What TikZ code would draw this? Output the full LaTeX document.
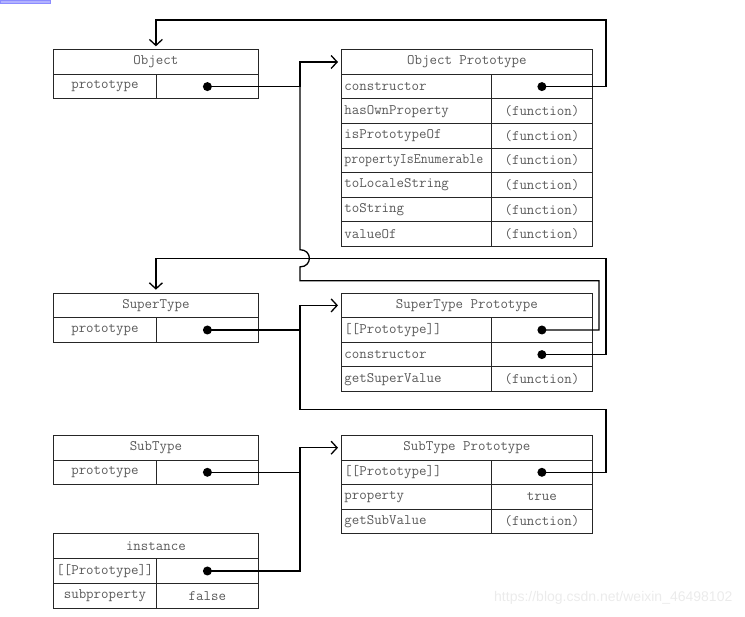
\documentclass[tikz,border=0pt]{standalone}
\usepackage{fontspec}
\usepackage{tikz}
\usetikzlibrary{arrows.meta, calc, positioning}
\newfontfamily\wmfont{Liberation Sans}

\begin{document}
\begin{tikzpicture}[x=1pt, y=-1pt, >=stealth, semithick]
                \tikzset{cell/.style={draw=black!85, line width=0.8pt, anchor=north west, minimum height=24.6pt, inner sep=0pt, font=\ttfamily\fontsize{14.5}{15}\selectfont, text=black!65}};
                \tikzset{lhead/.style={cell, minimum width=205pt}, lkey/.style={cell, minimum width=103pt}, lval/.style={cell, minimum width=102pt}};
                \tikzset{rhead/.style={cell, minimum width=251pt}, rkey/.style={cell, minimum width=150pt, text width=144pt, align=left}, rval/.style={cell, minimum width=101pt}};
                \tikzset{point/.style={circle, fill, inner sep=0pt, minimum size=9pt}, link/.style={line width=1.3pt}, tip/.style={-{Straight Barb[length=6pt, width=13pt]}, shorten >=3pt}};
                \useasboundingbox (0, 0) rectangle (745, 617);
                \fill[blue!30, draw=blue!45] (0, 0) rectangle (50, 3);
                % left column
                \node[lhead] (obj) at (53, 49.3) {Object};
                \node[lkey] (objk) at (53, 73.9) {prototype};
                \node[lval] (objv) at (156, 73.9) {};
                \node[lhead] (st) at (53, 292.7) {SuperType};
                \node[lkey] (stk) at (53, 317.3) {prototype};
                \node[lval] (stv) at (156, 317.3) {};
                \node[lhead] (sb) at (53, 435) {SubType};
                \node[lkey] (sbk) at (53, 459.6) {prototype};
                \node[lval] (sbv) at (156, 459.6) {};
                \node[lhead] (ins) at (53, 533.3) {instance};
                \node[lkey] (insk1) at (53, 558.3) {[[Prototype]]};
                \node[lval] (insv1) at (156, 558.3) {};
                \node[lkey] (insk2) at (53, 583.5) {subproperty};
                \node[lval] (insv2) at (156, 583.5) {false};
                % right column
                \node[rhead] (op) at (341, 49.3) {Object Prototype};
                \node[rkey] (opk1) at (341, 73.9) {constructor};
                \node[rval] (opv1) at (491, 73.9) {};
                \foreach \name [count=\i from 2] in {hasOwnProperty, isPrototypeOf, {\scalebox{0.93}[1]{propertyIsEnumerable}}, toLocaleString, toString, valueOf} {
                    \node[rkey] (opk\i) at (341, 49.3 + \i*24.6) {\name};
                    \node[rval] (opv\i) at (491, 49.3 + \i*24.6) {(function)};
                }
                \node[rhead] (stp) at (341, 292.7) {SuperType Prototype};
                \node[rkey] (stpk1) at (341, 317.3) {[[Prototype]]};
                \node[rval] (stpv1) at (491, 317.3) {};
                \node[rkey] (stpk2) at (341, 341.9) {constructor};
                \node[rval] (stpv2) at (491, 341.9) {};
                \node[rkey] (stpk3) at (341, 366.5) {getSuperValue};
                \node[rval] (stpv3) at (491, 366.5) {(function)};
                \node[rhead] (sbp) at (341, 435) {SubType Prototype};
                \node[rkey] (sbpk1) at (341, 459.6) {[[Prototype]]};
                \node[rval] (sbpv1) at (491, 459.6) {};
                \node[rkey] (sbpk2) at (341, 484.2) {property};
                \node[rval] (sbpv2) at (491, 484.2) {true};
                \node[rkey] (sbpk3) at (341, 508.8) {getSubValue};
                \node[rval] (sbpv3) at (491, 508.8) {(function)};
                % dots
                \node[point] (objdot) at (objv.center) {};
                \node[point] (stdot) at (stv.center) {};
                \node[point] (sbdot) at (sbv.center) {};
                \node[point] (insdot) at (insv1.center) {};
                \node[point] (opdot) at (opv1.center) {};
                \node[point] (stpdot1) at (stpv1.center) {};
                \node[point] (stpdot2) at (stpv2.center) {};
                \node[point] (sbpdot) at (sbpv1.center) {};
                % bends
                \coordinate (bus) at (300, 0);
                \coordinate (rail) at (606, 0);
                \coordinate (top) at (606, 20);
                \coordinate (hop) at (300, 258.3);
                \coordinate (loopA) at (599, 280.7);
                \coordinate (loopB) at (606, 409.3);
                % links
                \draw[link, tip] (objdot.center) -- (objdot -| bus) |- (op.west);
                \draw[link] (stpdot1.center) -| (loopA) -- (loopA -| bus) -- ($(hop) + (0, 8.6)$) .. controls ($(hop) + (12.5, 8.6)$) and ($(hop) + (12.5, -8.6)$) .. ($(hop) + (0, -8.6)$) -- (objdot -| bus);
                \draw[link, tip] (opdot.center) -| (top) -- (obj.north |- top) -- (obj.north);
                \draw[link, tip] (stpdot2.center) -| (hop -| rail) -- (st.north |- hop) -- (st.north);
                \draw[link, tip] (stdot.center) -- (stdot -| bus) |- (stp.west);
                \draw[link] (sbpdot.center) -| (loopB) -- (loopB -| bus) -- (stdot -| bus);
                \draw[link, tip] (sbdot.center) -- (sbdot -| bus) |- (sbp.west);
                \draw[link] (insdot.center) -| (sbdot -| bus);
                \node[anchor=east, text=black!8, font=\wmfont\fontsize{14}{16}\selectfont] (mark) at (736, 598) {https://blog.csdn.net/weixin\_46498102};
            \end{tikzpicture}
\end{document}
